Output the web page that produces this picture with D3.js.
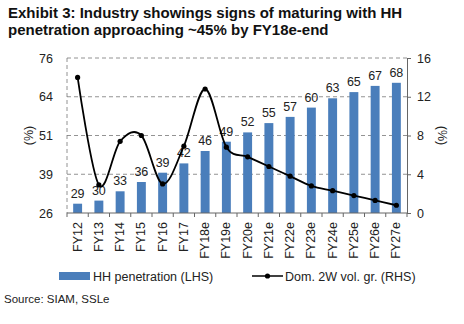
<!DOCTYPE html>
<html>
<head>
<meta charset="utf-8">
<script src="https://cdn.jsdelivr.net/npm/d3@7"></script>
<style>
  body { margin: 0; background: #fff; }
  text { font-family: "Liberation Sans", Arial, sans-serif; }
</style>
</head>
<body>
<script>
// Chart data
const years = ["FY12", "FY13", "FY14", "FY15", "FY16", "FY17", "FY18e", "FY19e", "FY20e",
               "FY21e", "FY22e", "FY23e", "FY24e", "FY25e", "FY26e", "FY27e"];
const hhPenetration = [29, 30, 33, 36, 39, 42, 46, 49, 52, 55, 57, 60, 63, 65, 67, 68];
const volGrowth = [14.0, 2.9, 7.4, 8.0, 3.0, 6.9, 12.8, 6.8, 5.8, 4.8, 3.8, 2.8, 2.3, 1.8, 1.3, 0.8];
const leftTicks = [26, 38.5, 51, 63.5, 76];
const leftTickLabels = ["26", "39", "51", "64", "76"];
const rightTicks = [0, 4, 8, 12, 16];

const width = 464, height = 324;
const margin = { left: 67, right: 57, top: 58, bottom: 111 };
const plotW = width - margin.left - margin.right;
const plotH = height - margin.top - margin.bottom;

const svg = d3.select("body").append("svg")
    .attr("width", width)
    .attr("height", height);

// Title
svg.append("text").attr("x", 8).attr("y", 18)
    .attr("font-size", 15).attr("font-weight", "bold").attr("fill", "#111")
    .text("Exhibit 3: Industry showings signs of maturing with HH");
svg.append("text").attr("x", 8).attr("y", 35)
    .attr("font-size", 15).attr("font-weight", "bold").attr("fill", "#111")
    .text("penetration approaching ~45% by FY18e-end");

const g = svg.append("g").attr("transform", `translate(${margin.left},${margin.top})`);

const x = d3.scaleBand().domain(years).range([0, plotW]).paddingInner(0.58).paddingOuter(0.29);
const yL = d3.scaleLinear().domain([26, 76]).range([plotH, 0]);
const yR = d3.scaleLinear().domain([0, 16]).range([plotH, 0]);

// Gridlines (dashed)
g.append("g").selectAll("line")
    .data(leftTicks.slice(1))
    .join("line")
    .attr("x1", 0).attr("x2", plotW)
    .attr("y1", d => yL(d)).attr("y2", d => yL(d))
    .attr("stroke", "#777").attr("stroke-width", 0.8)
    .attr("stroke-dasharray", "4,3");
g.append("line")
    .attr("x1", 0).attr("x2", 0).attr("y1", 0).attr("y2", plotH)
    .attr("stroke", "#777").attr("stroke-width", 0.8).attr("stroke-dasharray", "4,3");

// Bars
g.append("g").selectAll("rect")
    .data(hhPenetration)
    .join("rect")
    .attr("x", (d, i) => x(years[i]))
    .attr("y", d => yL(d))
    .attr("width", x.bandwidth())
    .attr("height", d => plotH - yL(d))
    .attr("fill", "#4a7ebb");

// Bar labels
g.append("g").selectAll("text")
    .data(hhPenetration)
    .join("text")
    .attr("x", (d, i) => x(years[i]) + x.bandwidth() / 2)
    .attr("y", d => yL(d) - 6)
    .attr("text-anchor", "middle")
    .attr("font-size", 12.5).attr("fill", "#222")
    .text(d => d);

// Line (smoothed)
const cx = i => x(years[i]) + x.bandwidth() / 2;
const line = d3.line()
    .x((d, i) => cx(i))
    .y(d => yR(d))
    .curve(d3.curveCardinal.tension(0));
g.append("path")
    .datum(volGrowth)
    .attr("d", line)
    .attr("fill", "none").attr("stroke", "#000").attr("stroke-width", 1.8);
g.append("g").selectAll("circle")
    .data(volGrowth)
    .join("circle")
    .attr("cx", (d, i) => cx(i))
    .attr("cy", d => yR(d))
    .attr("r", 2.6)
    .attr("fill", "#000");

// Left axis labels
const leftAxis = d3.axisLeft(yL).tickValues(leftTicks)
    .tickFormat((d, i) => leftTickLabels[i]).tickSize(0).tickPadding(14);
g.append("g").call(leftAxis)
    .call(s => s.select(".domain").remove())
    .call(s => s.selectAll("text").attr("font-size", 12.5).attr("fill", "#222")
        .attr("font-family", "Liberation Sans, Arial, sans-serif"));

// Right axis
const rightAxis = d3.axisRight(yR).tickValues(rightTicks).tickSize(4).tickPadding(6);
g.append("g").attr("transform", `translate(${plotW},0)`).call(rightAxis)
    .call(s => s.select(".domain").attr("stroke", "#666"))
    .call(s => s.selectAll(".tick line").attr("stroke", "#666"))
    .call(s => s.selectAll("text").attr("font-size", 12.5).attr("fill", "#222")
        .attr("font-family", "Liberation Sans, Arial, sans-serif"));

// Bottom axis
g.append("line").attr("x1", 0).attr("x2", plotW).attr("y1", plotH).attr("y2", plotH)
    .attr("stroke", "#666");
g.append("g").selectAll("line")
    .data(d3.range(years.length + 1))
    .join("line")
    .attr("x1", i => i * x.step()).attr("x2", i => i * x.step())
    .attr("y1", plotH).attr("y2", plotH + 4)
    .attr("stroke", "#666");
g.append("g").selectAll("text")
    .data(years)
    .join("text")
    .attr("transform", d => `translate(${x(d) + x.bandwidth() / 2 + 4},${plotH + 9}) rotate(-90)`)
    .attr("text-anchor", "end")
    .attr("font-size", 12.5).attr("fill", "#222")
    .text(d => d);

// Axis titles
svg.append("text")
    .attr("transform", `translate(33,${margin.top + plotH / 2}) rotate(-90)`)
    .attr("text-anchor", "middle").attr("font-size", 12.5).attr("fill", "#222")
    .text("(%)");
svg.append("text")
    .attr("transform", `translate(438,${margin.top + plotH / 2}) rotate(90)`)
    .attr("text-anchor", "middle").attr("font-size", 12.5).attr("fill", "#222")
    .text("(%)");

// Legend
const lg = svg.append("g").attr("transform", "translate(0,276)");
lg.append("rect").attr("x", 59).attr("y", -4).attr("width", 31).attr("height", 8).attr("fill", "#4a7ebb");
lg.append("text").attr("x", 93).attr("y", 4.5).attr("font-size", 12.5).attr("fill", "#222")
    .text("HH penetration (LHS)");
lg.append("line").attr("x1", 252).attr("x2", 283).attr("y1", 0).attr("y2", 0)
    .attr("stroke", "#000").attr("stroke-width", 1.5);
lg.append("circle").attr("cx", 267.5).attr("cy", 0).attr("r", 2.6).attr("fill", "#000");
lg.append("text").attr("x", 285).attr("y", 4.5).attr("font-size", 12.5).attr("fill", "#222")
    .text("Dom. 2W vol. gr. (RHS)");

// Source
svg.append("text").attr("x", 4).attr("y", 303).attr("font-size", 11.5).attr("fill", "#222")
    .text("Source: SIAM, SSLe");
</script>
</body>
</html>
